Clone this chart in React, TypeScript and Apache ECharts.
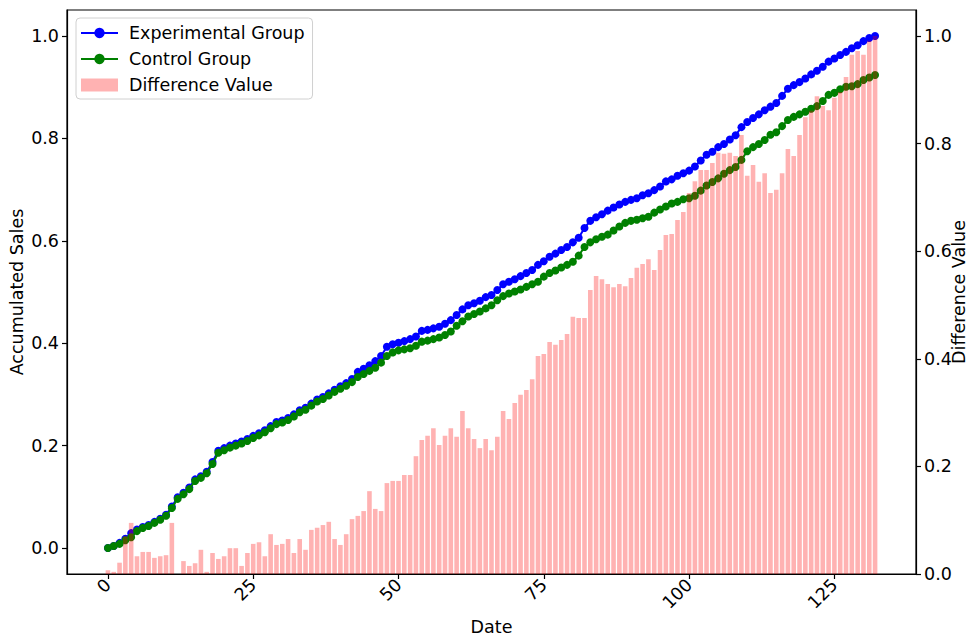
import React, { useEffect, useRef } from "react";
import * as echarts from "echarts";

const experimental = [
  0.000, 0.004, 0.010, 0.018, 0.029, 0.036, 0.041, 0.045, 0.051, 0.057,
  0.065, 0.081, 0.099, 0.108, 0.118, 0.134, 0.140, 0.149, 0.168, 0.190,
  0.195, 0.200, 0.204, 0.208, 0.213, 0.219, 0.224, 0.230, 0.238, 0.246,
  0.249, 0.254, 0.261, 0.269, 0.274, 0.282, 0.290, 0.295, 0.302, 0.309,
  0.316, 0.322, 0.330, 0.344, 0.350, 0.357, 0.365, 0.375, 0.393, 0.398,
  0.401, 0.404, 0.408, 0.413, 0.424, 0.426, 0.429, 0.432, 0.438, 0.445,
  0.455, 0.466, 0.474, 0.478, 0.483, 0.490, 0.494, 0.504, 0.515, 0.520,
  0.525, 0.531, 0.537, 0.543, 0.553, 0.560, 0.569, 0.575, 0.582, 0.588,
  0.597, 0.606, 0.625, 0.639, 0.646, 0.652, 0.659, 0.665, 0.671, 0.676,
  0.680, 0.683, 0.689, 0.693, 0.699, 0.706, 0.716, 0.720, 0.727, 0.732,
  0.737, 0.745, 0.757, 0.768, 0.774, 0.783, 0.789, 0.798, 0.806, 0.822,
  0.832, 0.840, 0.847, 0.855, 0.862, 0.869, 0.883, 0.897, 0.904, 0.910,
  0.917, 0.925, 0.932, 0.940, 0.950, 0.956, 0.963, 0.969, 0.976, 0.982,
  0.990, 0.996, 1.000,
];

const control = [
  0.000, 0.004, 0.008, 0.015, 0.021, 0.033, 0.039, 0.043, 0.049, 0.055,
  0.063, 0.078, 0.096, 0.105, 0.115, 0.131, 0.137, 0.146, 0.164, 0.186,
  0.191, 0.196, 0.200, 0.204, 0.209, 0.215, 0.220, 0.226, 0.234, 0.242,
  0.245, 0.250, 0.257, 0.265, 0.270, 0.278, 0.286, 0.291, 0.298, 0.305,
  0.311, 0.317, 0.324, 0.334, 0.340, 0.346, 0.352, 0.362, 0.375, 0.382,
  0.386, 0.388, 0.390, 0.395, 0.403, 0.405, 0.408, 0.411, 0.416, 0.423,
  0.434, 0.443, 0.452, 0.457, 0.462, 0.468, 0.474, 0.484, 0.492, 0.497,
  0.501, 0.505, 0.510, 0.515, 0.520, 0.530, 0.537, 0.542, 0.548, 0.553,
  0.559, 0.571, 0.588, 0.597, 0.603, 0.608, 0.612, 0.620, 0.628, 0.635,
  0.639, 0.641, 0.644, 0.647, 0.655, 0.661, 0.667, 0.673, 0.676, 0.681,
  0.683, 0.688, 0.698, 0.708, 0.715, 0.722, 0.731, 0.738, 0.744, 0.758,
  0.775, 0.783, 0.789, 0.797, 0.807, 0.812, 0.824, 0.836, 0.842, 0.847,
  0.852, 0.858, 0.863, 0.873, 0.885, 0.889, 0.896, 0.901, 0.902, 0.906,
  0.914, 0.919, 0.924,
];

const difference = [
  0.007, 0.004, 0.021, 0.070, 0.095, 0.033, 0.041, 0.041, 0.030, 0.033,
  0.035, 0.095, 0.000, 0.024, 0.015, 0.020, 0.045, 0.004, 0.039, 0.028,
  0.033, 0.048, 0.048, 0.015, 0.039, 0.056, 0.059, 0.033, 0.074, 0.054,
  0.056, 0.065, 0.039, 0.065, 0.045, 0.082, 0.086, 0.091, 0.097, 0.065,
  0.054, 0.074, 0.102, 0.108, 0.117, 0.154, 0.121, 0.117, 0.169, 0.173,
  0.173, 0.184, 0.184, 0.219, 0.249, 0.257, 0.271, 0.240, 0.257, 0.271,
  0.255, 0.303, 0.271, 0.251, 0.234, 0.251, 0.230, 0.255, 0.303, 0.288,
  0.318, 0.333, 0.342, 0.362, 0.405, 0.409, 0.431, 0.426, 0.435, 0.446,
  0.478, 0.476, 0.476, 0.528, 0.554, 0.548, 0.539, 0.533, 0.539, 0.535,
  0.550, 0.569, 0.576, 0.585, 0.565, 0.602, 0.630, 0.632, 0.658, 0.673,
  0.708, 0.730, 0.751, 0.751, 0.764, 0.783, 0.781, 0.783, 0.777, 0.816,
  0.740, 0.760, 0.729, 0.745, 0.708, 0.714, 0.745, 0.790, 0.777, 0.816,
  0.849, 0.861, 0.888, 0.870, 0.862, 0.885, 0.896, 0.924, 0.965, 0.972,
  0.965, 0.991, 1.000,
];

const xTicks = [0, 25, 50, 75, 100, 125];
const leftTicks = [0, 0.2, 0.4, 0.6, 0.8, 1.0];
const rightTicks = [0, 0.2, 0.4, 0.6, 0.8, 1.0];

const FONT = "DejaVu Sans";
const FS = 17.5;

export default function App() {
  const ref = useRef<HTMLDivElement>(null);
  useEffect(() => {
    if (!ref.current) return;
    const chart = echarts.init(ref.current, null, { renderer: "svg" });
    const pairs = (arr: number[]) => arr.map((v, i) => [i, v]);
    chart.setOption({
      animation: false,
      backgroundColor: "#fff",
      textStyle: { fontFamily: FONT, color: "#000" },
      grid: {
        left: 67,
        right: 53,
        top: 10,
        bottom: 63,
        containLabel: false,
        outerBoundsMode: "none",
        show: true,
        borderColor: "#000",
        borderWidth: 1.2,
        backgroundColor: "transparent",
      },
      legend: {
        left: 76,
        top: 18,
        orient: "vertical",
        itemWidth: 37,
        itemHeight: 13,
        itemGap: 8,
        padding: [6, 8, 5, 4],
        backgroundColor: "rgba(255,255,255,0.85)",
        borderColor: "#d0d0d0",
        borderWidth: 1,
        borderRadius: 4,
        textStyle: { fontFamily: FONT, fontSize: FS, color: "#000", lineHeight: 17, padding: [0, 0, 0, 6] },
        data: [
          { name: "Experimental Group" },
          { name: "Control Group" },
          { name: "Difference Value", icon: "rect" },
        ],
      },
      xAxis: {
        type: "value",
        min: -7.04,
        max: 139.04,
        name: "Date",
        nameLocation: "middle",
        nameGap: 44,
        nameMoveOverlap: false,
        nameTextStyle: { fontFamily: FONT, fontSize: FS, color: "#000" },
        axisLine: { show: true, onZero: false, lineStyle: { color: "#000", width: 1.2 } },
        axisTick: { show: true, customValues: xTicks, length: 5, lineStyle: { color: "#000", width: 1.2 } },
        axisLabel: { customValues: xTicks, rotate: 45, fontSize: FS, color: "#000", fontFamily: FONT, margin: 8 },
        splitLine: { show: false },
      },
      yAxis: [
        {
          type: "value",
          position: "left",
          min: -0.0508,
          max: 1.0508,
          name: "Accumulated Sales",
          nameLocation: "middle",
          nameGap: 41,
          nameMoveOverlap: false,
          nameTextStyle: { fontFamily: FONT, fontSize: FS, color: "#000" },
          axisLine: { show: true, onZero: false, lineStyle: { color: "#000", width: 1.2 } },
          axisTick: { show: true, customValues: leftTicks, length: 5, lineStyle: { color: "#000", width: 1.2 } },
          axisLabel: {
            customValues: leftTicks,
            fontSize: FS,
            color: "#000",
            fontFamily: FONT,
            margin: 8,
            formatter: (v: number) => v.toFixed(1),
          },
          splitLine: { show: false },
        },
        {
          type: "value",
          position: "right",
          min: 0,
          max: 1.0483,
          name: "Difference Value",
          nameLocation: "middle",
          nameGap: 34,
          nameRotate: 90,
          nameMoveOverlap: false,
          nameTextStyle: { fontFamily: FONT, fontSize: FS, color: "#000" },
          axisLine: { show: true, onZero: false, lineStyle: { color: "#000", width: 1.2 } },
          axisTick: { show: true, customValues: rightTicks, length: 5, lineStyle: { color: "#000", width: 1.2 } },
          axisLabel: {
            customValues: rightTicks,
            fontSize: FS,
            color: "#000",
            fontFamily: FONT,
            margin: 8,
            formatter: (v: number) => v.toFixed(1),
          },
          splitLine: { show: false },
        },
      ],
      series: [
        {
          name: "Experimental Group",
          type: "line",
          yAxisIndex: 0,
          data: pairs(experimental),
          symbol: "circle",
          symbolSize: 8,
          color: "#0000ff",
          lineStyle: { color: "#0000ff", width: 2 },
          itemStyle: { color: "#0000ff" },
          z: 2,
        },
        {
          name: "Control Group",
          type: "line",
          yAxisIndex: 0,
          data: pairs(control),
          symbol: "circle",
          symbolSize: 8,
          color: "#008000",
          lineStyle: { color: "#008000", width: 2 },
          itemStyle: { color: "#008000" },
          z: 3,
        },
        {
          name: "Difference Value",
          type: "bar",
          yAxisIndex: 1,
          data: pairs(difference),
          barWidth: 4.6,
          color: "rgba(255,0,0,0.3)",
          itemStyle: { color: "rgba(255,0,0,0.3)" },
          z: 4,
        },
      ],
    });
    return () => chart.dispose();
  }, []);
  return <div ref={ref} style={{ position: "fixed", left: 0, top: 0, width: 969, height: 637 }} />;
}
